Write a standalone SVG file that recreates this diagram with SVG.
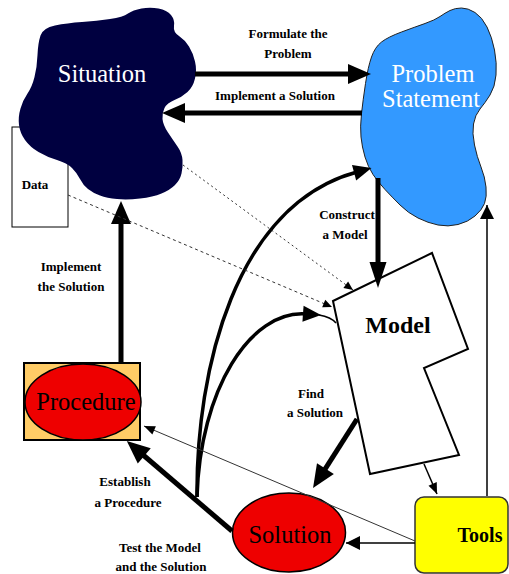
<svg xmlns="http://www.w3.org/2000/svg" width="509" height="574" viewBox="0 0 509 574">
<style>
text{font-family:"Liberation Serif","DejaVu Serif",serif}
.lbl{font-weight:bold;font-size:13px;fill:#000;text-anchor:middle}
.big{font-size:24.5px;text-anchor:middle}
.thick{fill:none;stroke:#000;stroke-width:5}
.mid{fill:none;stroke:#000;stroke-width:3.5}
.thin{fill:none;stroke:#000;stroke-width:1.5}
.hair{fill:none;stroke:#333;stroke-width:1}
</style>
<defs>
<marker id="ahBig" markerUnits="userSpaceOnUse" markerWidth="24" markerHeight="21" refX="3" refY="10" orient="auto" overflow="visible"><path d="M0,0 L23,10 L0,20 z" fill="#000"/></marker>
<marker id="ahNarrow" markerUnits="userSpaceOnUse" markerWidth="27" markerHeight="18" refX="3" refY="8.5" orient="auto" overflow="visible"><path d="M0,0 L26,8.5 L0,17 z" fill="#000"/></marker>
<marker id="ahMed" markerUnits="userSpaceOnUse" markerWidth="19" markerHeight="17" refX="3" refY="8" orient="auto" overflow="visible"><path d="M0,0 L18,8 L0,16 z" fill="#000"/></marker>
<marker id="ahThin" markerUnits="userSpaceOnUse" markerWidth="15" markerHeight="14" refX="14" refY="7" orient="auto" overflow="visible"><path d="M0,0 L14,7 L0,14 z" fill="#000"/></marker>
<marker id="ahSmall" markerUnits="userSpaceOnUse" markerWidth="12" markerHeight="10" refX="11" refY="4.5" orient="auto" overflow="visible"><path d="M0,0 L11,4.5 L0,9 z" fill="#000"/></marker>
<marker id="ahDot" markerUnits="userSpaceOnUse" markerWidth="10" markerHeight="9" refX="9" refY="4" orient="auto" overflow="visible"><path d="M0,0 L9,4 L0,8 z" fill="#000"/></marker>
</defs>

<g id="data">
<rect x="12" y="127" width="56" height="100" fill="#fff" stroke="#000" stroke-width="1"/>
<text class="lbl" x="35" y="189">Data</text>
</g>

<g id="situation">
<path d="M40.5,35.5 Q43,28 55,25.5 Q67,23 82,22 Q97,21 110,19 Q123,17 128,13.5 Q133,10 141.5,8.5 Q150,7 158.5,8.5 Q167,10 171,15 Q175,20 174,26 Q173,32 179,36 Q185,40 189,46.5 Q193,53 195,61.5 Q197,70 195,78.5 Q193,87 187.5,92 Q182,97 174.5,100 Q167,103 164.5,108 Q162,113 162.5,119 Q163,125 168,132.5 Q173,140 177.5,146.5 Q182,153 182.5,160 Q183,167 181.5,173.5 Q180,180 175,185 Q170,190 161.5,193.5 Q153,197 140,198.5 Q127,200 117,199 Q107,198 100,195.5 Q93,193 88,189 Q83,185 80,179 Q77,173 72,168 Q67,163 57,160 Q47,157 38.5,152 Q30,147 25,140 Q20,133 19,125 Q18,117 20.5,108.5 Q23,100 27.5,93.5 Q32,87 34.5,77 Q37,67 37.5,55 Q38,43 40.5,35.5 Z" fill="#000040"/>
<text class="big" x="102" y="82" fill="#fff">Situation</text>
</g>

<g id="problem">
<path d="M440,16.5 Q445,13 450,10.5 Q455,8 461.5,8 Q468,8 475,12.5 Q482,17 487,27 Q492,37 494.5,50 Q497,63 496,75 Q495,87 490,95 Q485,103 480,109 Q475,115 473.5,124 Q472,133 474.5,145 Q477,157 481,167 Q485,177 486,187 Q487,197 484.5,203.5 Q482,210 475,216 Q468,222 458,224.5 Q448,227 438,225 Q428,223 418,218 Q408,213 400,205 Q392,197 385,189.5 Q378,182 373,174.5 Q368,167 365,157 Q362,147 361,137 Q360,127 361.5,113.5 Q363,100 365.5,83.5 Q368,67 371.5,57 Q375,47 381.5,42 Q388,37 401.5,32 Q415,27 425,23.5 Q435,20 440,16.5 Z" fill="#3399ff" stroke="#222" stroke-width="1"/>
<text class="big" x="433" y="82" fill="#fff">Problem</text>
<text class="big" x="431" y="107" fill="#fff">Statement</text>
</g>

<g id="model">
<polygon points="333,301 432,253 468,349 424,368 459,455 370,474" fill="#fff" stroke="#000" stroke-width="2"/>
<text x="398" y="333" font-weight="bold" font-size="24px" text-anchor="middle" fill="#000">Model</text>
</g>

<g id="procedure">
<rect x="24" y="363" width="116" height="77" fill="#ffcc66" stroke="#000" stroke-width="2"/>
<ellipse cx="83" cy="402" rx="58" ry="38" fill="#ee0000" stroke="#000" stroke-width="1.5"/>
<text class="big" x="86" y="410" fill="#000" font-size="24px">Procedure</text>
</g>

<g id="solution">
<ellipse cx="289" cy="532.5" rx="56.5" ry="39.5" fill="#ee0000" stroke="#000" stroke-width="1.5"/>
<text class="big" x="290" y="543" fill="#000" font-size="24px">Solution</text>
</g>

<g id="tools">
<rect x="415" y="497" width="93" height="76" rx="9" ry="9" fill="#ffff00" stroke="#333" stroke-width="1.5"/>
<text x="480" y="542" font-weight="bold" font-size="20px" text-anchor="middle" fill="#000">Tools</text>
</g>

<g id="connectors">
<path class="thick" d="M195,74 H351" marker-end="url(#ahBig)"/>
<path class="thick" d="M362,113 H182" marker-end="url(#ahBig)"/>
<path class="thick" d="M121,362 V221" marker-end="url(#ahBig)"/>
<path class="thick" stroke-width="4.5" d="M378,178 V265" marker-end="url(#ahNarrow)"/>
<path class="thick" stroke-width="4.5" d="M232,531 L142,454" marker-end="url(#ahBig)"/>
<path class="thick" d="M357,419 L323.8,471.1" marker-end="url(#ahBig)"/>
<path class="mid" stroke-width="3" d="M197,497 C196,370 235,205 357,172" marker-end="url(#ahMed)"/>
<path class="mid" d="M197,497 C200,390 250,310 306,314" marker-end="url(#ahMed)"/>
<path class="thin" stroke-width="2" d="M319,315 Q331,317 336,323"/>
<path class="thin" d="M415,543 H346" marker-end="url(#ahThin)"/>
<path class="hair" d="M415,541 L144,426" marker-end="url(#ahSmall)"/>
<path class="thin" d="M487,496 V205" marker-end="url(#ahThin)"/>
<path class="thin" d="M424,464 L437,494" marker-end="url(#ahSmall)"/>
<path class="hair" stroke-dasharray="2,3" d="M183,165 L353,290" marker-end="url(#ahDot)"/>
<path class="hair" stroke-dasharray="3,3" d="M68,195 L332,307" marker-end="url(#ahDot)"/>
<text class="lbl" x="288" y="38">Formulate the</text>
<text class="lbl" x="288" y="58">Problem</text>
<text class="lbl" font-size="11px" x="275" y="100">Implement a Solution</text>
<text class="lbl" x="71" y="271">Implement</text>
<text class="lbl" x="71" y="291">the Solution</text>
<text class="lbl" x="347" y="219">Construct</text>
<text class="lbl" x="345" y="239">a Model</text>
<text class="lbl" x="311" y="398">Find</text>
<text class="lbl" x="315" y="417">a Solution</text>
<text class="lbl" x="125" y="486">Establish</text>
<text class="lbl" x="128" y="507">a Procedure</text>
<text class="lbl" x="160" y="552">Test the Model</text>
<text class="lbl" x="161" y="571">and the Solution</text>
</g>
</svg>
